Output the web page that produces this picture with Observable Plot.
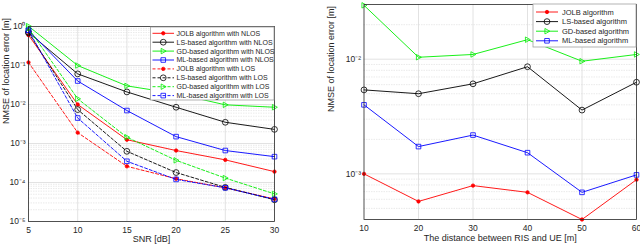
<!DOCTYPE html>
<html><head><meta charset="utf-8">
<script src="https://cdn.jsdelivr.net/npm/d3@7"></script>
<script src="https://cdn.jsdelivr.net/npm/@observablehq/plot@0.6"></script>
<style>
body{margin:0;background:#fff;}
#wrap{position:relative;width:640px;height:246px;overflow:hidden;}
.p{position:absolute;top:0;}
</style>
</head><body>
<div id="wrap"><div id="left" class="p" style="left:0"></div><div id="right" class="p" style="left:320px"></div></div>
<script>
// ---------- Left panel data ----------
const snr = [5, 10, 15, 20, 25, 30];
const jolbNlos = [0.6, 0.01, 1.25e-3, 6.6e-4, 3.8e-4, 1.9e-4];
const lsNlos   = [0.7, 0.061, 0.021, 8.5e-3, 3.5e-3, 2.3e-3];
const gdNlos   = [1.02, 0.1, 0.03, 0.019, 9.8e-3, 8.5e-3];
const mlNlos   = [0.8, 0.04, 7e-3, 1.5e-3, 6.6e-4, 4.6e-4];
const jolbLos  = [0.12, 1.9e-3, 2.6e-4, 1.25e-4, 7.3e-5, 3.8e-5];
const lsLos    = [0.7, 7.4e-3, 6.3e-4, 1.8e-4, 7.5e-5, 3.6e-5];
const gdLos    = [0.9, 0.014, 1.45e-3, 3.7e-4, 1.3e-4, 5.1e-5];
const mlLos    = [0.8, 4.5e-3, 3.5e-4, 1.2e-4, 7.3e-5, 3.7e-5];
const leftNames = ["JOLB algorithm with NLOS","LS-based algorithm with NLOS","GD-based algorithm with NLOS","ML-based algorithm with NLOS",
                   "JOLB algorithm with LOS","LS-based algorithm with LOS","GD-based algorithm with LOS","ML-based algorithm with LOS"];
const leftXTicks = [5, 10, 15, 20, 25, 30];
const leftYTicks = [1e-5, 1e-4, 1e-3, 1e-2, 1e-1, 1];
const leftYTickLabels = ["10⁻⁵","10⁻⁴","10⁻³","10⁻²","10⁻¹","10⁰"];

// ---------- Right panel data ----------
const dist = [10, 20, 30, 40, 50, 60];
const jolbD = [1.0e-3, 5.75e-4, 7.9e-4, 6.9e-4, 4.0e-4, 8.9e-4];
const lsD   = [5.4e-3, 5.0e-3, 6.1e-3, 8.6e-3, 3.6e-3, 6.3e-3];
const gdD   = [0.0295, 0.0104, 0.011, 0.0148, 9.6e-3, 0.011];
const mlD   = [4.0e-3, 1.73e-3, 2.18e-3, 1.53e-3, 6.9e-4, 9.8e-4];
const rightNames = ["JOLB algorithm","LS-based algorithm","GD-based algorithm","ML-based algorithm"];
const rightXTicks = [10, 20, 30, 40, 50, 60];
const rightYTicks = [1e-3, 1e-2];
const rightYTickLabels = ["10⁻³","10⁻²"];

// ---------- styles ----------
const FONT = "Liberation Sans, Arial, Helvetica, sans-serif";
const triRight = {draw(ctx, size){ const s = Math.sqrt(size/Math.PI); ctx.moveTo(s*1.1,0); ctx.lineTo(-s*0.8,-s*1.05); ctx.lineTo(-s*0.8,s*1.05); ctx.closePath(); }};
const sty = [
  {color:"#ff0000", symbol:"circle", fill:true, r:1.7},
  {color:"#000000", symbol:"circle", fill:false, r:2.9},
  {color:"#00ee00", symbol:triRight, fill:false, r:2.6},
  {color:"#0000ff", symbol:"square", fill:false, r:2.6}
];

function minorTicks(dom){
  const out=[]; const lo=Math.floor(Math.log10(dom[0])), hi=Math.ceil(Math.log10(dom[1]));
  for(let e=lo;e<hi;e++) for(let k=2;k<=9;k++){const v=k*Math.pow(10,e); if(v>dom[0]*1.0001&&v<dom[1]*0.9999) out.push(v);}
  return out;
}

function build(cfg){
  const rows=[];
  cfg.series.forEach((vals,si)=>vals.forEach((v,i)=>rows.push({x:cfg.xs[i], y:v, s:si})));
  const marks=[
    Plot.ruleY(minorTicks(cfg.yDomain), {stroke:"#e4e4e4", strokeWidth:0.8, strokeDasharray:"1.5,1"}),
    Plot.ruleY(cfg.yTicks.filter(v=>v>cfg.yDomain[0]&&v<cfg.yDomain[1]), {stroke:"#dadada", strokeWidth:0.8}),
    Plot.ruleX(cfg.xTicks.slice(1,-1), {stroke:"#dadada", strokeWidth:0.8}),
  ];
  cfg.series.forEach((vals,si)=>{
    const st = sty[si%4]; const dashed = si>=4;
    const d = rows.filter(r=>r.s===si);
    marks.push(Plot.line(d,{x:"x",y:"y",stroke:st.color,strokeWidth:0.9,strokeDasharray:dashed?"3,2":null}));
    marks.push(Plot.dot(d,{x:"x",y:"y",symbol:()=>st.symbol,r:st.r,stroke:st.color,strokeWidth:0.8,fill:st.fill?st.color:"none"}));
  });
  marks.push(
    Plot.frame({stroke:"#262626", strokeWidth:0.8}),
    Plot.axisX(cfg.xTicks,{tickSize:0,tickPadding:5,label:null,fontSize:8.5,fill:"#262626"}),
    Plot.axisY(cfg.yTicks,{tickSize:0,tickPadding:3,label:null,fontSize:8.5,fill:"#262626",
      tickFormat:d=>cfg.yTickLabels[cfg.yTicks.findIndex(t=>Math.abs(t-d)/t<1e-6)]}),
    Plot.text([cfg.xLabel],{frameAnchor:"bottom",text:d=>d,dy:cfg.xLabelDy,lineAnchor:"middle",fontSize:9,fill:"#262626"}),
    Plot.text([cfg.yLabel],{frameAnchor:"left",text:d=>d,rotate:-90,dx:cfg.yLabelDx,lineAnchor:"middle",fontSize:9,fill:"#262626"})
  );
  const svg = Plot.plot({
    width:cfg.width,height:cfg.height,
    marginLeft:cfg.m[0],marginRight:cfg.m[1],marginTop:cfg.m[2],marginBottom:cfg.m[3],
    style:{fontFamily:FONT,background:"#fff"},
    x:{domain:cfg.xDomain,label:null},
    y:{type:"log",domain:cfg.yDomain,label:null},
    marks
  });
  // legend
  const L = cfg.legend;
  const g = d3.select(svg).append("g").attr("font-family",FONT).attr("font-size",L.fs).attr("text-anchor","start");
  g.append("rect").attr("x",L.x).attr("y",L.y).attr("width",L.w).attr("height",L.h)
    .style("fill","#ffffff").style("stroke","#a0a0a0").style("stroke-width","0.8px");
  cfg.names.forEach((nm,i)=>{
    const st = sty[i%4]; const y = L.y0 + i*L.dy; const dashed = i>=4;
    g.append("line").attr("x1",L.l1).attr("x2",L.l2).attr("y1",y).attr("y2",y).attr("stroke",st.color).attr("stroke-width",0.9).attr("stroke-dasharray",dashed?"3,2":null);
    const cx=(L.l1+L.l2)/2;
    const sym = typeof st.symbol==="string" ? (st.symbol==="circle"?d3.symbolCircle:d3.symbolSquare) : st.symbol;
    g.append("path").attr("transform",`translate(${cx},${y})`).attr("d",d3.symbol(sym, Math.PI*st.r*st.r)())
      .attr("stroke",st.color).attr("stroke-width",0.8).style("fill",st.fill?st.color:"none");
    g.append("text").attr("x",L.tx).attr("y",y).attr("dy","0.35em").attr("text-anchor","start").style("fill","#262626").text(nm);
  });
  return svg;
}

document.getElementById("left").append(build({
  width:320,height:246,m:[28,46,26,25],
  xs:snr, series:[jolbNlos,lsNlos,gdNlos,mlNlos,jolbLos,lsLos,gdLos,mlLos], names:leftNames,
  xDomain:[5,30], xTicks:leftXTicks, yDomain:[1e-5,1], yTicks:leftYTicks, yTickLabels:leftYTickLabels,
  xLabel:"SNR [dB]", yLabel:"NMSE of location error [m]", xLabelDy:18, yLabelDx:-22,
  legend:{x:150.5,y:27,w:123.5,h:73,y0:33.3,dy:8.9,l1:152.5,l2:174,tx:176.5,fs:7}
}));
document.getElementById("right").append(build({
  width:320,height:246,m:[43.5,4,4,27],
  xs:dist, series:[jolbD,lsD,gdD,mlD], names:rightNames,
  xDomain:[10,60], xTicks:rightXTicks, yDomain:[4e-4,3e-2], yTicks:rightYTicks, yTickLabels:rightYTickLabels,
  xLabel:"The distance between RIS and UE [m]", yLabel:"NMSE of location error [m]", xLabelDy:19, yLabelDx:-33,
  legend:{x:213,y:4,w:103,h:43,y0:12,dy:9.6,l1:216,l2:238,tx:242,fs:7.5}
}));
</script>
</body></html>
